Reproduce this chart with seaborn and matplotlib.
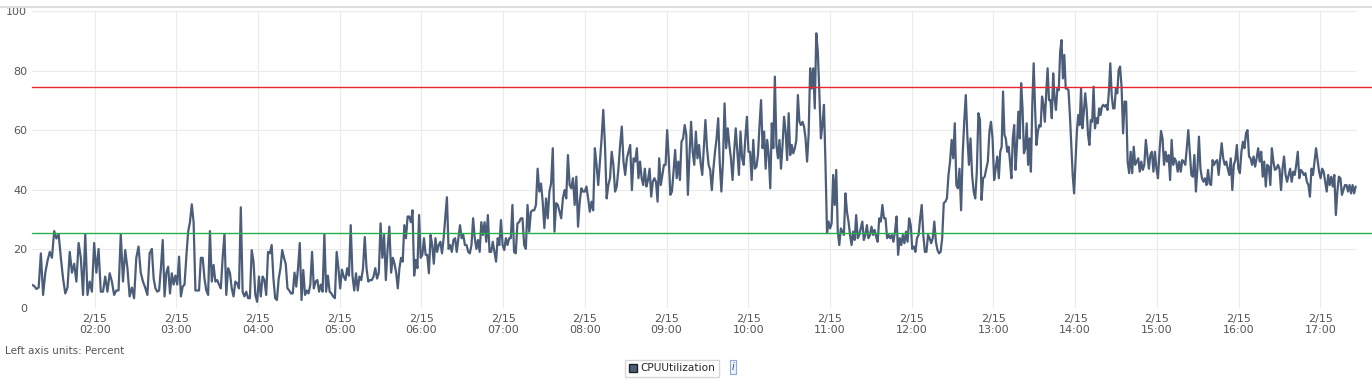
import matplotlib
matplotlib.use("Agg")
import matplotlib.pyplot as plt
import matplotlib.dates as mdates
from matplotlib.ticker import FuncFormatter
from matplotlib.patches import Patch
from matplotlib.lines import Line2D
import pandas as pd
import seaborn as sns

# CPUUtilization readings in chunks; each chunk runs
# from its start time up to the start of the next one
day = "2016-02-15"
chunk_starts = ["01:14", "02:42", "04:10", "05:39", "07:08", "08:37",
                "10:06", "11:35", "13:04", "14:33", "16:01", "17:26"]

cpu_0114 = [7.9, 7.5, 6.5, 7.0, 18.5, 4.5, 12, 16, 19, 17, 26, 23.5, 25, 17, 10, 5, 7, 19, 12, 15,
            9, 22, 17, 4.5, 25, 4.5, 9, 5.6, 22, 12, 20, 5.6, 5.6, 10.7, 5.6, 11.8, 9, 4.5, 6, 6,
            25, 9, 19.6, 13.5, 4, 7, 3.4, 17, 20.8, 12, 9, 7, 4.5, 18.5]
cpu_0242 = [20, 10, 6.7, 5.6, 6, 13.5, 23, 4, 12, 14, 5, 11.8, 8, 11, 8, 17.4, 4, 7.3, 8, 17.4,
            25.8, 29, 35, 29, 6, 6, 6, 17, 17, 10, 6, 4.5, 26, 9, 14.6, 9, 9.5, 8, 6.7, 17,
            25, 4.5, 13.5, 12, 6.7, 4, 9, 8.4, 6.7, 34, 5.6, 4, 5.6, 3.4, 3.4, 19.6, 15.7, 4.5,
            2.2, 10.7, 4, 10.7, 9.5, 4.5, 19, 18.5]
cpu_0410 = [21.3, 10, 3.4, 2.8, 10, 13.5, 19.6, 17, 15, 6.7, 6, 5, 5, 12, 7.3, 13.5, 22, 2.8, 12.9,
            4.5, 6, 5, 8, 19, 6.7, 9, 9.5, 5.6, 8, 5.6, 25, 5.6, 11, 5.6, 5, 4, 3.4, 19, 13.5,
            6.7, 13, 10.7, 9.5, 13.5, 11, 28, 11, 6, 11.8, 6, 10.7, 9.5, 13.5, 24, 13.5, 9, 9.5,
            9.5, 10.7, 13.5, 10, 12, 28.6, 17, 24.7, 9.5, 20, 27.5, 12]
cpu_0539 = [17, 15, 12, 6.7, 13.5, 17, 15.7, 28, 23.6, 30.9, 30.9, 29, 33, 11, 16.3, 13.5, 31.4,
            17, 18, 23.6, 18, 18, 11.8, 24.7, 21.3, 15, 23.6, 19, 21.3, 22.4, 18.5, 23.6, 30.3,
            37.4, 20, 21.3, 19, 23, 23.6, 19, 23.6, 28, 23.6, 24.7, 21.3, 21.3, 19, 18.5, 21.3,
            30.3, 23.6, 20, 23, 19, 29, 24.7, 29, 22.4, 31.4, 19, 19, 22.4, 19, 15.7, 23.6, 21.3,
            29.7, 21.3, 19.6, 23.6, 21.3, 23.6, 23.6, 34.8]
cpu_0708 = [19, 18.5, 28.6, 29, 30.3, 30.3, 21.3, 20, 34.8, 25.8, 32.5, 33, 33, 34.8, 47, 39.3,
            42, 35.9, 27, 37, 30.3, 39.3, 42, 53.9, 25.8, 35.4, 34.8, 32.5, 30.3, 37, 39.8, 37,
            51.6, 41.5, 40.4, 43.8, 34.8, 44.3, 27.5, 35.9, 40.4, 39.3, 39.3, 41, 37, 32.5, 35.9,
            33, 53.9, 48.3, 41.5, 49.4, 57.2, 66.8, 55, 37, 41.5, 43.8, 52.7, 48.3, 39.3, 41, 47,
            55, 61.2, 49.4, 44.9, 50.5, 52.7, 55, 39.8, 50.5]
cpu_0837 = [49.4, 53.9, 43.8, 49.4, 43.8, 41.5, 47, 41, 43.2, 47, 37.6, 42.6, 43.8, 42.6, 35.9,
            50.5, 41.5, 44.9, 48.3, 48.3, 60, 50.5, 38.2, 39.3, 46, 53.3, 43.8, 49.4, 43.2, 56.1,
            57.2, 61.7, 58.4, 38.2, 51.6, 62.8, 52.7, 48.3, 59.5, 50.5, 55, 48.8, 44.9, 53.9,
            63.4, 53.9, 48.3, 46.6, 39.8, 47, 52.7, 57.2, 64, 48.8, 39.3, 49.4, 69, 53.9, 60.6,
            55, 50.5, 43.2, 52.7, 60.6, 52.7, 44.9, 59.5, 50.5, 48.3, 57.2, 64.5, 52.7, 52.7,
            43.2, 56.7, 47]
cpu_1006 = [47.7, 51.6, 61.7, 70.1, 53.9, 59.5, 47, 56.7, 51.6, 40.4, 62.3, 53.9, 78, 55, 50.5,
            56.7, 47, 55, 64.5, 59.5, 49.9, 65.7, 51.6, 55, 52.2, 53.9, 56.7, 71.8, 62.8, 61.7,
            62.8, 61.2, 57.2, 49.4, 58.4, 80.8, 74, 80.8, 67.3, 92.6, 86.4, 72.4, 57.2, 61.7,
            68.5, 48.3, 25.3, 29.2, 26.9, 28.6, 44.9, 34.8, 46.6, 25.8, 21.3, 26.9, 25.8, 24.7,
            38.7, 32.5, 29.2, 24.7, 21.3, 25.8, 23, 31.4, 23.6, 24.7, 26.9, 29.2, 23, 24.7, 28,
            23.6, 24.7, 27.5, 24.7, 26.4, 24.1]
cpu_1135 = [22.4, 30.3, 29.2, 34.8, 30.3, 30.3, 23.6, 24.7, 23.6, 24.7, 22.4, 25.8, 30.9, 18,
            23.6, 21.3, 24.7, 21.9, 25.8, 22.4, 30.3, 28, 20, 20.8, 19, 23.6, 24.7, 30.3, 34.8,
            24.7, 19, 19, 24.7, 23.6, 21.9, 23.6, 29.2, 22.4, 19.6, 18.5, 19, 23.6, 35.4, 35.9,
            37, 44.9, 49.4, 56.7, 50.5, 62.3, 41.5, 40.4, 47, 33, 51.6, 62.8, 71.8, 57.8, 48.3,
            57.2, 44.9, 39.3, 37, 46, 65.7, 63.4, 36.5, 43.8, 44.3, 47, 49.4, 59.5, 62.8, 57.2,
            43.2, 47, 51.1]
cpu_1304 = [43.8, 52.7, 54.4, 73, 58.4, 57.2, 52.7, 54.4, 49.4, 43.8, 57.2, 61.7, 46.6, 55, 66.2,
            57.2, 75.8, 67.3, 52.2, 53.9, 62.3, 48.3, 57.2, 46, 68.5, 82.5, 67.3, 55, 59.5, 61.7,
            61.2, 71.3, 68.5, 62.8, 72.4, 80.8, 70.1, 70.1, 64, 79.1, 70.7, 66.8, 74, 73.4, 86.4,
            90.3, 77.4, 85.3, 74, 74, 73.4, 65.1, 55, 44.9, 38.7, 49.4, 59.5, 65.1, 61.7, 74,
            60.6, 66.2, 72.4, 67.3, 58.4, 55, 63.4, 62.8, 74.6, 60.6, 64, 62.3, 67.3, 65.1, 67.9,
            68.5, 67.9, 68.5, 66.8, 73, 82.5, 71.8, 67.3, 67.3, 74, 72.4, 80.2]
cpu_1433 = [81.4, 74.6, 58.9, 69.6, 69.6, 49.4, 45.5, 52.7, 45.5, 54.4, 48.3, 49.4, 50.5, 46,
            49.4, 46.6, 48.3, 56.7, 51.6, 47, 51.6, 52.7, 46, 52.7, 47, 43.8, 52.7, 59.7, 57.2,
            48.3, 52.7, 49.4, 51.6, 43.2, 56.7, 48.3, 50.5, 49.4, 46, 49.4, 46, 49.9, 49.4, 48.3,
            53.9, 60, 52.7, 44.9, 44.3, 51.6, 39.3, 47, 57.8, 47, 43.8, 42.6, 43.8, 41.5, 46.6,
            42, 41.5, 49.9, 48.3, 49.4, 49.9, 44.9, 50.5, 55.6, 50.5, 48.3, 49.4, 47, 44.9, 50.5,
            39.8, 48.3, 49.9, 55, 47]
cpu_1601 = [45.5, 52.7, 56.1, 53.9, 58.9, 60, 51.1, 50.5, 48.3, 51.1, 47.7, 50.5, 53.9, 49.4,
            52.7, 44.3, 49.4, 41, 48.3, 47.7, 41.5, 53.9, 49.4, 46.6, 47, 48.3, 47, 39.8, 47,
            51.1, 44.9, 42.6, 44.9, 47, 42.6, 46, 44.9, 48.3, 52.7, 43.8, 46.6, 46, 44.9, 45.5,
            42.6, 41.5, 37.6, 47, 44.9, 49.4, 53.9, 49.9, 46, 43.8, 47, 46, 42.6, 39.3, 44.9,
            41.5, 44.3, 41, 44.9, 31.4, 39.3, 44.3, 43.8, 38.2, 39.8, 41.5, 41.5, 39.3, 41.5,
            38.7, 41.5, 38.7, 41]

chunks = [cpu_0114, cpu_0242, cpu_0410, cpu_0539, cpu_0708, cpu_0837,
          cpu_1006, cpu_1135, cpu_1304, cpu_1433, cpu_1601]

# alarm thresholds drawn across the chart
high_alarm = 74.4
low_alarm = 25.2

line_color = "#4b5d78"

# build the time series
edges = pd.to_datetime([f"{day} {t}" for t in chunk_starts])
times, values = [], []
for i, chunk in enumerate(chunks):
    last = i == len(chunks) - 1
    stamps = pd.date_range(edges[i], edges[i + 1], periods=len(chunk) + (0 if last else 1))
    if not last:
        stamps = stamps[:-1]
    times.extend(stamps)
    values.extend(chunk)
df = pd.DataFrame({"time": times, "CPUUtilization": values})

sns.set_style("white")
plt.rcParams["font.family"] = ["DejaVu Sans"]

W, H = 1372, 380
fig = plt.figure(figsize=(W / 100, H / 100), dpi=100)
ax = fig.add_axes([32 / W, 1 - 308.3 / H, 1325 / W, 297 / H])

sns.lineplot(data=df, x="time", y="CPUUtilization", color=line_color,
             linewidth=1.6, ax=ax, legend=False)

ax.set_ylim(0, 100)
ax.set_xlim(pd.Timestamp(f"{day} 01:14"), pd.Timestamp(f"{day} 17:27"))
ax.set_yticks(range(0, 101, 20))
ax.xaxis.set_major_locator(mdates.HourLocator())


def fmt_time(x, pos):
    d = mdates.num2date(x)
    return f"{d.month}/{d.day}\n{d:%H:%M}"


ax.xaxis.set_major_formatter(FuncFormatter(fmt_time))
ax.set_xlabel("")
ax.set_ylabel("")
ax.grid(True, color="#ebebeb", linewidth=0.8)
ax.set_axisbelow(True)
for s in ax.spines.values():
    s.set_visible(False)
ax.tick_params(axis="both", length=0, labelsize=8, labelcolor="#555555")
ax.tick_params(axis="x", pad=4)
ax.tick_params(axis="y", pad=3.5)
for lbl in ax.get_xticklabels():
    lbl.set_linespacing(1.15)

# alarm lines run on to the right edge of the figure
ax.axhline(high_alarm, xmin=0, xmax=(W - 32) / 1325, color="#e8262e", linewidth=1, clip_on=False)
ax.axhline(low_alarm, xmin=0, xmax=(W - 32) / 1325, color="#26b04a", linewidth=1, clip_on=False)

# top border of the widget
fig.add_artist(Line2D([0, 1], [1 - 6.5 / H] * 2, transform=fig.transFigure,
                      color="#dddddd", linewidth=1.5))

fig.text(5 / W, 1 - 351 / H, "Left axis units: Percent", fontsize=7.5,
         color="#555555", va="center", ha="left")

handle = Patch(facecolor=line_color, edgecolor="#222222", label="CPUUtilization")
fig.legend(handles=[handle], loc="lower left", bbox_to_anchor=(625 / W, 3 / H),
           frameon=True, fancybox=False, edgecolor="#cccccc", fontsize=7.6,
           handlelength=0.8, handleheight=0.8, handletextpad=0.35,
           borderpad=0.35, borderaxespad=0)
fig.text(733 / W, 1 - 367 / H, "i", style="italic", fontsize=7, color="#334466",
         ha="center", va="center",
         bbox=dict(boxstyle="square,pad=0.2", fc="#eef3fb", ec="#8aa8d8", lw=0.8))

fig.savefig("out.png", dpi=100)
